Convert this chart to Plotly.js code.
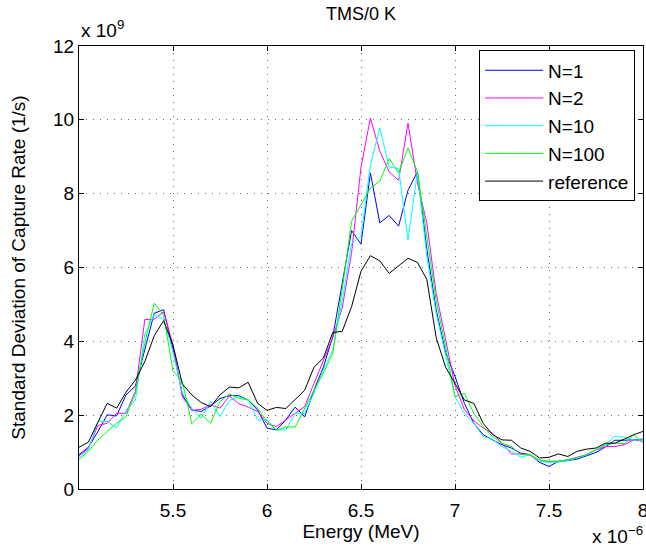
<!DOCTYPE html>
<html>
<head>
<meta charset="utf-8">
<script src="https://cdn.plot.ly/plotly-3.0.1.min.js"></script>
<style>html,body{margin:0;padding:0;background:#fff;}#chart{width:646px;height:552px;}</style>
</head>
<body>
<div id="chart"></div>
<script>
// Energy (units of 1e-6 MeV), 0.05 steps from 5.00 to 8.00
const energy = [5.00,5.05,5.10,5.15,5.20,5.25,5.30,5.35,5.40,5.45,5.50,5.55,5.60,5.65,5.70,5.75,5.80,5.85,5.90,5.95,6.00,6.05,6.10,6.15,6.20,6.25,6.30,6.35,6.40,6.45,6.50,6.55,6.60,6.65,6.70,6.75,6.80,6.85,6.90,6.95,7.00,7.05,7.10,7.15,7.20,7.25,7.30,7.35,7.40,7.45,7.50,7.55,7.60,7.65,7.70,7.75,7.80,7.85,7.90,7.95,8.00];

// Standard deviation of capture rate (units of 1e9 1/s)
const n1 = [0.93,1.13,1.55,2.01,1.98,2.55,2.79,3.75,4.76,4.86,3.80,2.55,2.14,2.10,2.25,2.45,2.53,2.53,2.41,2.14,1.65,1.60,1.87,2.22,1.95,2.68,3.30,4.13,5.60,7.00,6.63,8.56,7.21,7.41,7.12,8.09,8.59,6.50,4.85,3.70,3.05,2.32,1.78,1.47,1.33,1.20,1.11,0.97,0.93,0.72,0.61,0.75,0.77,0.81,0.90,0.99,1.14,1.32,1.32,1.33,1.35];
const n2 = [0.90,1.10,1.72,1.78,2.05,2.05,2.65,4.59,4.60,4.80,3.90,2.50,2.13,2.16,2.28,2.19,2.52,2.31,2.22,2.10,1.78,1.69,1.87,2.05,2.23,2.86,3.50,4.10,4.90,6.40,8.72,10.05,9.15,8.59,8.36,9.91,8.30,7.20,5.30,4.00,2.80,2.15,1.85,1.65,1.51,1.24,0.95,0.95,0.91,0.75,0.75,0.75,0.79,0.86,0.93,1.06,1.15,1.15,1.20,1.33,1.29];
const n10 = [0.85,1.06,1.83,1.83,1.65,2.14,2.41,4.20,4.72,4.60,3.70,2.60,2.19,1.92,2.37,1.96,2.40,2.50,2.41,1.87,1.87,1.60,1.60,2.05,2.05,2.60,3.23,3.77,5.10,6.65,6.85,8.77,9.78,8.72,8.68,6.74,8.59,6.30,4.75,3.60,2.50,2.05,1.78,1.42,1.35,1.15,1.02,0.86,0.93,0.75,0.72,0.73,0.77,0.84,0.93,1.06,1.20,1.42,1.41,1.33,1.33];
const n100 = [0.80,1.02,1.33,1.56,1.78,1.96,2.60,3.95,5.03,4.71,3.20,2.90,1.77,2.03,1.78,2.37,2.57,2.46,2.41,2.19,1.83,1.59,1.68,1.68,2.19,2.68,3.14,3.68,5.40,7.25,7.70,8.15,8.34,8.95,8.56,9.24,8.60,6.80,5.10,3.86,2.50,2.59,2.05,1.69,1.42,1.24,1.15,0.93,0.93,0.79,0.75,0.75,0.79,0.84,0.93,1.06,1.20,1.24,1.23,1.47,1.26];
const reference = [1.13,1.27,1.80,2.32,2.19,2.62,2.95,3.45,4.15,4.56,3.90,2.84,2.55,2.34,2.23,2.55,2.76,2.74,2.89,2.32,2.13,2.21,2.18,2.43,2.67,3.30,3.55,4.24,4.27,4.94,5.90,6.32,6.18,5.84,6.04,6.25,6.14,5.68,4.10,3.30,2.86,2.41,2.32,1.78,1.47,1.33,1.32,1.11,1.02,0.84,0.86,0.95,0.88,1.02,1.08,1.11,1.24,1.24,1.35,1.47,1.56];

const seriesNames = ['N=1','N=2','N=10','N=100','reference'];
const seriesData = [n1, n2, n10, n100, reference];
const seriesColors = ['#0000ff','#ff00ff','#00ffff','#00ff00','#000000'];

const xTickVals = [5.5,6,6.5,7,7.5,8];
const xTickText = ['5.5','6','6.5','7','7.5','8'];
const yTickVals = [0,2,4,6,8,10,12];
const yTickText = ['0','2','4','6','8','10','12'];

const FONT = 'Liberation Sans, Arial, Helvetica, sans-serif';
const FS = 19;

const traces = seriesNames.map((name, k) => ({
  type: 'scatter', mode: 'lines', name: name,
  x: energy, y: seriesData[k],
  line: {color: seriesColors[k], width: 1}
}));

const axisCommon = {
  showline: true, mirror: 'ticks', linecolor: '#000', linewidth: 1,
  ticks: 'inside', ticklen: 5, tickcolor: '#000', tickwidth: 1,
  showgrid: true, gridcolor: '#6a6a6a', griddash: '1px,6px', gridwidth: 1,
  zeroline: false, ticklabeloverflow: 'allow',
  tickfont: {family: FONT, size: FS, color: '#000'}
};

const layout = {
  width: 646, height: 552,
  margin: {l: 79, r: 3, t: 46, b: 63},
  paper_bgcolor: '#fff', plot_bgcolor: '#fff',
  font: {family: FONT, size: FS, color: '#000'},
  title: {text: 'TMS/0 K', font: {family: FONT, size: 18, color: '#000'},
          x: 0.5, xref: 'paper', y: 1 - 14/552, yref: 'container', yanchor: 'middle'},
  xaxis: Object.assign({}, axisCommon, {
    range: [5.0, 8.0], tickmode: 'array', tickvals: xTickVals, ticktext: xTickText,
    ticklabelstandoff: 4,
    title: {text: 'Energy (MeV)', font: {family: FONT, size: FS}, standoff: 3}
  }),
  yaxis: Object.assign({}, axisCommon, {
    range: [0, 12], tickmode: 'array', tickvals: yTickVals, ticktext: yTickText,
    title: {text: 'Standard Deviation of Capture Rate (1/s)', font: {family: FONT, size: FS}, standoff: 22}
  }),
  showlegend: true,
  legend: {
    x: 0.986, xanchor: 'right', y: 0.99, yanchor: 'top',
    bordercolor: '#000', borderwidth: 1, bgcolor: '#fff', itemwidth: 58,
    font: {family: FONT, size: FS, color: '#000'}
  },
  annotations: [
    {text: 'x 10<sup>9</sup>', xref: 'paper', yref: 'paper', x: 0, y: 1,
     xanchor: 'left', yanchor: 'bottom', yshift: 3, showarrow: false,
     font: {family: FONT, size: FS, color: '#000'}},
    {text: 'x 10<sup>\u22126</sup>', xref: 'paper', yref: 'paper', x: 1.004, y: -0.072,
     xanchor: 'right', yanchor: 'top', showarrow: false,
     font: {family: FONT, size: FS, color: '#000'}}
  ]
};

Plotly.newPlot('chart', traces, layout, {displayModeBar: false, staticPlot: true});
</script>
</body>
</html>
